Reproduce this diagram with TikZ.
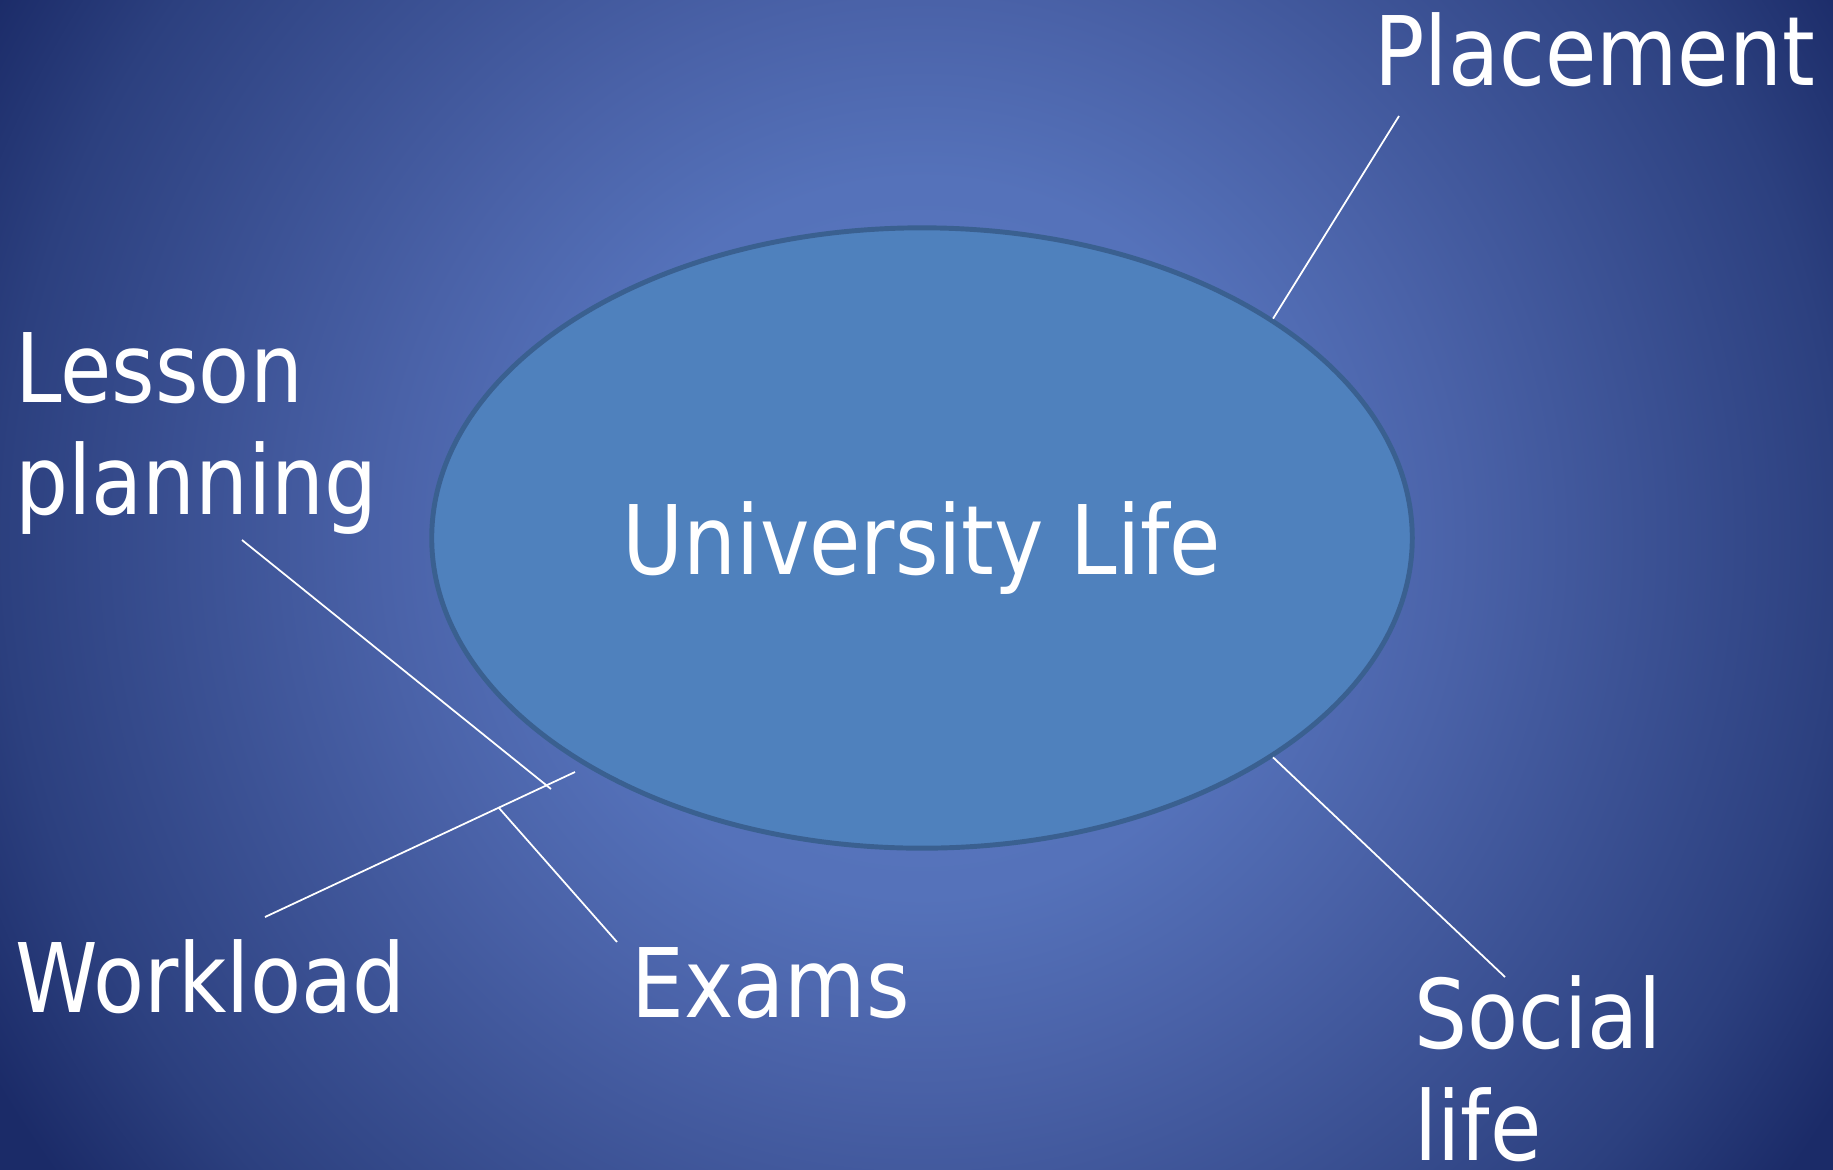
\documentclass[tikz,border=0pt]{standalone}
\usepackage{fontspec}
\setmainfont{DejaVu Sans}[FakeStretch=0.87]
\usetikzlibrary{shapes.geometric}
\definecolor{glowA}{HTML}{5B79C0}
\definecolor{glowB}{HTML}{5572BA}
\definecolor{glowC}{HTML}{4A62A8}
\definecolor{glowD}{HTML}{2C407F}
\definecolor{glowE}{HTML}{1B2B68}
\definecolor{ovalfill}{HTML}{4F81BD}
\definecolor{ovalrim}{HTML}{3A6090}
\pgfdeclareradialshading{slideglow}{\pgfpoint{0bp}{0bp}}{color(0bp)=(glowA); color(8bp)=(glowB); color(12bp)=(glowC); color(20.5bp)=(glowD); color(24bp)=(glowE); color(25bp)=(glowE)}

\begin{document}
\begin{tikzpicture}[x=0.01cm,y=-0.01cm,-,thick,main oval/.style={ellipse,draw=ovalrim,line width=1.4pt,fill=ovalfill,minimum width=9.8cm,minimum height=6.2cm,inner sep=0pt,text=white,text depth=0pt,font=\fontsize{27.3}{31.6}\selectfont},label node/.style={inner sep=0pt,anchor=base west,align=left,text=white,font=\fontsize{27.3}{31.6}\selectfont},spoke line/.style={draw=white,line width=0.5pt}]

            \begin{scope}
            \clip (0,0) rectangle (1833,1169);
            \shade[shading=slideglow] (922,538) circle[radius=1120];
            \end{scope}
            \useasboundingbox (0,0) rectangle (1833,1169);

            \node[main oval] (uni) at (922,538) {University Life};

            \node[label node] (place) at (1373,85) {Placement};
            \node[label node] (lesson) at (14,514) {Lesson\\planning};
            \node[label node] (work) at (14,1012) {Workload};
            \node[label node] (exams) at (630,1017) {Exams};
            \node[label node] (social) at (1413,1160) {Social\\life};

            \coordinate (p1) at (1399,116);
            \coordinate (l1) at (242,540);
            \coordinate (l2) at (551,789);
            \coordinate (w1) at (265,917);
            \coordinate (w2) at (575,772);
            \coordinate (e1) at (499,808);
            \coordinate (e2) at (617,942);
            \coordinate (s1) at (1505,977);

            \draw[spoke line] (uni.32.3) to (p1);
            \draw[spoke line] (l1) to (l2);
            \draw[spoke line] (w1) to (w2);
            \draw[spoke line] (e1) to (e2);
            \draw[spoke line] (uni.-32) to (s1);

            ;
        \end{tikzpicture}
\end{document}
